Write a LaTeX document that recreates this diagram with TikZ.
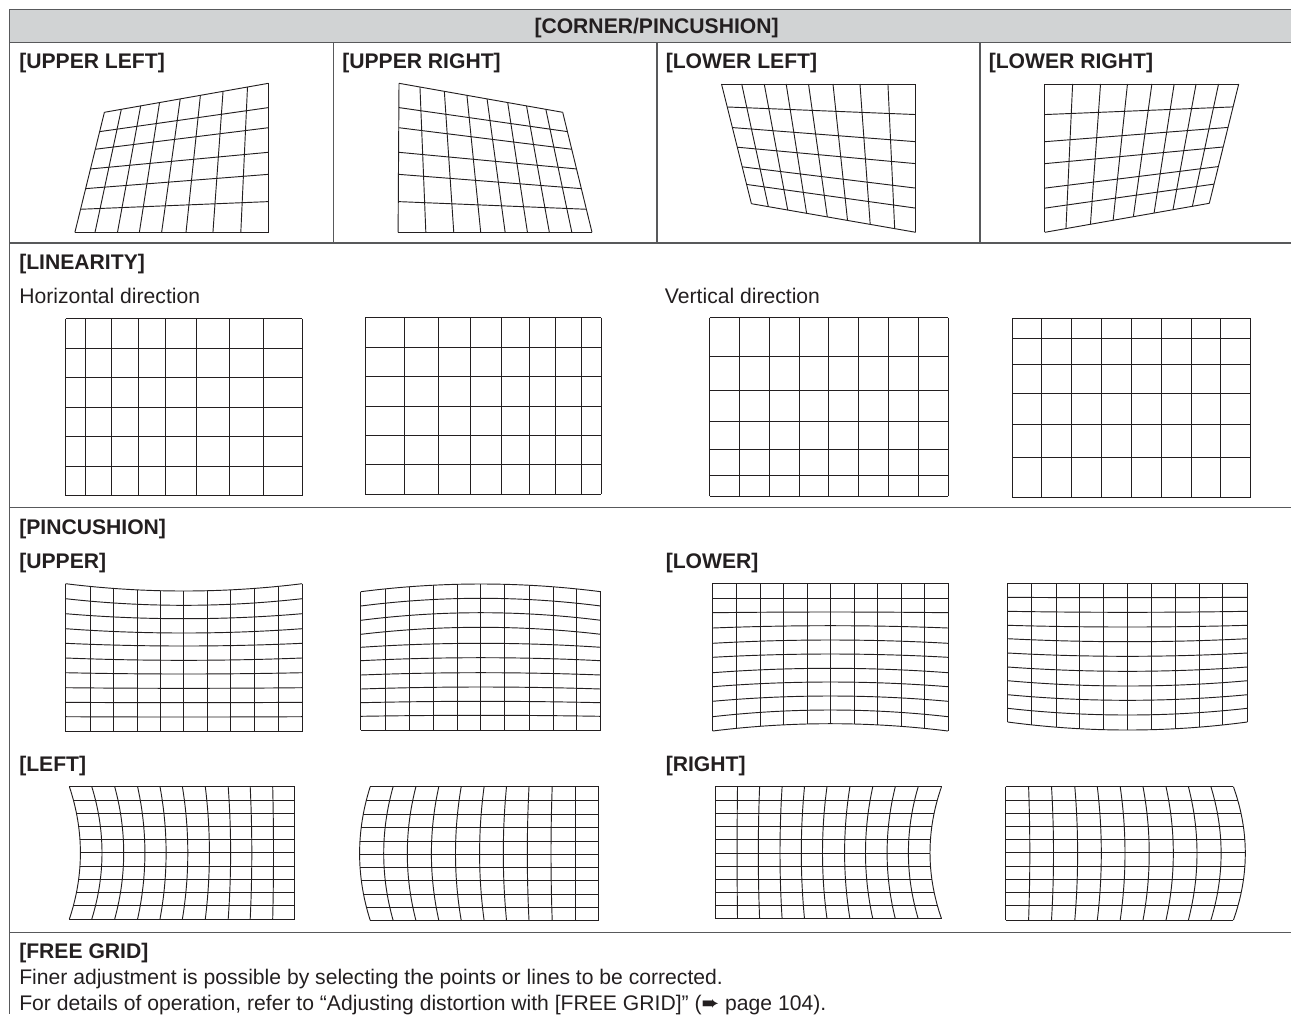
\documentclass[tikz,border=0pt]{standalone}
\usepackage{fontspec}
\setmainfont{Liberation Sans}
\newfontfamily\symfont{DejaVu Sans}
\usepackage{tikz}
\usetikzlibrary{calc}
\definecolor{ruleg}{HTML}{58595B}
\definecolor{headg}{HTML}{D1D3D4}
\definecolor{inkd}{HTML}{231F20}
% four-sided grid: pinched corner, its neighbour, the opposite one, the last one
\newcommand{\cornergrid}[4]{%
  \foreach \fa/\fb in {0/0,.103/.104,.221/.22,.336/.333,.462/.448,.585/.574,.723/.713,.872/.857,1/1}
    \draw[gridl] ($(#1)!\fa!(#2)$) -- ($(#4)!\fb!(#3)$);
  \foreach \fa/\fb in {0/0,.161/.163,.308/.298,.472/.463,.636/.611,.808/.794,1/1}
    \draw[gridl] ($(#1)!\fa!(#4)$) -- ($(#2)!\fb!(#3)$);
}
% straight grid: left, right, top, bottom, its verticals, its horizontals
\newcommand{\rectgrid}[6]{%
  \foreach \xa in {#5} \draw[gridl] (\xa,#3) -- (\xa,#4);
  \foreach \ya in {#6} \draw[gridl] (#1,\ya) -- (#2,\ya);
}
% bowed grid: from, to, first edge/mid, last edge/mid, all edge/mid, cross lines
\newcommand{\pingrid}[8]{%
  \foreach \ee/\mm in {#7}
    \draw[gridl] (#1,\ee) .. controls ({#1+(#2-#1)/3},{\ee+4/3*(\mm-\ee)})
      and ({#2-(#2-#1)/3},{\ee+4/3*(\mm-\ee)}) .. (#2,\ee);
  \foreach \uu in {#8} {
    \pgfmathsetmacro{\tpos}{(\uu-#1)/(#2-#1)}
    \draw[gridl] (\uu,{#3+4*\tpos*(1-\tpos)*(#4-#3)}) -- (\uu,{#5+4*\tpos*(1-\tpos)*(#6-#5)});
  }
}
\begin{document}
\begin{tikzpicture}[x=0.75pt, y=-0.75pt,
   gridl/.style={draw=inkd, line width=0.7pt},
   rulel/.style={draw=ruleg, line width=1.1pt},
   swapaxes/.style={cm={0,-1,-1,0,(0,0)}},
   tit/.style={anchor=base west, inner sep=0pt, text=inkd, font=\fontsize{15.85}{19}\selectfont\bfseries},
   txt/.style={anchor=base west, inner sep=0pt, text=inkd, font=\fontsize{15.85}{19}\selectfont}]
  \useasboundingbox (0,0) rectangle (1291,1014);
  % table
  \fill[headg] (9.3,9.5) rectangle (1291,42.7);
  \draw[rulel] (1291,9.5) -- (9.3,9.5) -- (9.3,1014);
  \foreach \yr in {42.7,243,507.3,932.3} \draw[rulel] (9.3,\yr) -- (1291,\yr);
  \foreach \xr in {333.7,657,980} \draw[rulel] (\xr,42.7) -- (\xr,243);
  % labels
  \node[tit, anchor=base] (head) at (656.6,33.5) {[CORNER/PINCUSHION]};
  \node[tit] (ul) at (19,68) {[UPPER LEFT]};
  \node[tit] (ur) at (342,68) {[UPPER RIGHT]};
  \node[tit] (ll) at (665.5,68) {[LOWER LEFT]};
  \node[tit] (lr) at (988.5,68) {[LOWER RIGHT]};
  \node[tit] (lin) at (19,269.5) {[LINEARITY]};
  \node[txt] (horiz) at (19,303.5) {Horizontal direction};
  \node[txt] (vert) at (664.7,303.5) {Vertical direction};
  \node[tit] (pin) at (19,534) {[PINCUSHION]};
  \node[tit] (up) at (19,568) {[UPPER]};
  \node[tit] (lo) at (665.5,568) {[LOWER]};
  \node[tit] (le) at (19,771) {[LEFT]};
  \node[tit] (ri) at (665.5,771) {[RIGHT]};
  \node[tit] (free) at (19,958.5) {[FREE GRID]};
  \node[txt] (finer) at (19,984) {Finer adjustment is possible by selecting the points or lines to be corrected.};
  \node[txt] (details) at (19,1010) {For details of operation, refer to “Adjusting distortion with [FREE GRID]” ({\symfont ➨} page 104).};
  % corner grids
  \cornergrid{104.4,112.3}{268.5,83.3}{268.5,232.3}{74.9,232.3}
  \cornergrid{562.7,112.3}{399,83.3}{398.1,232.3}{592,232.3}
  \cornergrid{751.4,203.7}{915.7,232.3}{915.7,84}{721.5,84}
  \cornergrid{1209.3,203.3}{1044.9,232.3}{1044.9,84}{1238.7,84}
  % linearity grids
  \rectgrid{65.7}{302}{318.7}{495.7}{65.7,85.7,111,138,165.7,196.3,229,263.3,302}{318.7,348,377.3,407,436.7,466,495.7}
  \rectgrid{365.3}{601.2}{317.7}{494.3}{365.3,404.1,438.4,470.2,501.2,529.4,555.9,581.2,601.2}{317.7,347,376.3,406,435.3,464.7,494.3}
  \rectgrid{709.7}{948}{317.7}{496}{709.7,739.5,769.4,799.2,828.7,858.5,888.8,918.6,948}{317.7,356.7,390.3,421.3,449.7,475.7,496}
  \rectgrid{1012.2}{1250.6}{318.7}{497}{1012.2,1041.7,1071.9,1101.8,1131.6,1161.4,1191.3,1220.7,1250.6}{318.7,338.7,364.7,393.3,424,457.7,497}
  % pincushion upper and lower
  \pingrid{65.7}{302}{583.7}{591}{731.7}{731.7}
    {583.7/591,598.7/605.3,613.7/618.7,628.7/633,643.3/646,658/660.3,672.7/674,687.7/688.3,702.3/702.7,716.7/717,731.7/731.7}
    {65.7,90.2,113.9,137.1,160.4,183.7,207.3,230.6,254.7,278,302}
  \pingrid{360.8}{600.8}{591.7}{584}{730}{730}
    {591.7/584,606/598.3,620.3/612.7,634.3/627.3,647.3/643.3,660.7/657.7,675/672.7,689/687,702.7/701.3,716.3/715.3,730/730}
    {360.8,385.3,409.4,433.5,457.1,480.8,504.9,529,553,576.7,600.8}
  \pingrid{712.6}{948}{583.3}{583.3}{731}{723.7}
    {583.3/583.3,598.3/598.3,612.7/612,628/625.7,643.3/640,657.3/654,672.7/668.3,686.7/682,701.3/696,716.7/710,731/723.7}
    {712.6,736.7,760.4,783.7,807,830.3,854,877.3,901,924.3,948}
  \pingrid{1007.7}{1247.3}{583.3}{583.3}{722}{730}
    {583.3/583.3,597.3/597.7,611.3/612.3,625.3/627,638.7/641.7,653/656.3,667/671.3,680.7/686,694.7/700.3,708.3/715,722/730}
    {1007.7,1031.8,1056,1079.7,1103.4,1127.1,1151.2,1175.3,1199,1222.8,1247.3}
  % pincushion left and right, same grid with the axes swapped
  \begin{scope}[swapaxes]
    \pingrid{786.7}{919}{69.4}{80.4}{294.7}{294.7}
      {69.4/80.4,91.8/102,114.7/123.7,137.6/144.9,160/166.1,182.4/187.8,205.3/209.4,228.2/230.6,250.2/251.8,272.7/273.5,294.7/294.7}
      {786.7,800,813.3,826.7,839.7,852.7,866,879,892.3,905.7,919}
    \pingrid{786.7}{920.3}{370.2}{359.6}{598.8}{598.8}
      {370.2/359.6,393.1/383.7,415.9/407.3,438.8/431.4,461.2/455.5,484.1/479.6,506.5/503.3,529/527.3,552.2/551,575.5/575.5,598.8/598.8}
      {786.7,800.7,814,827.7,841,854,867.7,880.7,894,907.3,920.3}
    \pingrid{786.7}{918.7}{715.4}{715.4}{941.5}{930}
      {715.4/715.4,737.5/737.1,759.6/758.3,782.1/780,804.5/801.3,827/822.5,849.9/844.6,872.8/865.5,895.3/887.1,918.2/908.4,941.5/930}
      {786.7,800.3,813.7,826.7,839.7,853,866,879,892.3,905.7,918.7}
    \pingrid{786.7}{920}{1005.7}{1005.7}{1233.4}{1245.3}
      {1005.7/1005.7,1028.6/1029.8,1051.5/1053.5,1074.8/1077.6,1097.3/1101.3,1120.2/1125,1143/1149.2,1166/1173.3,1188.4/1197,1210.9/1221.1,1233.4/1245.3}
      {786.7,800,813.3,826.3,839.7,852.7,866,879,892.3,905.7,920}
  \end{scope}
\end{tikzpicture}
\end{document}
